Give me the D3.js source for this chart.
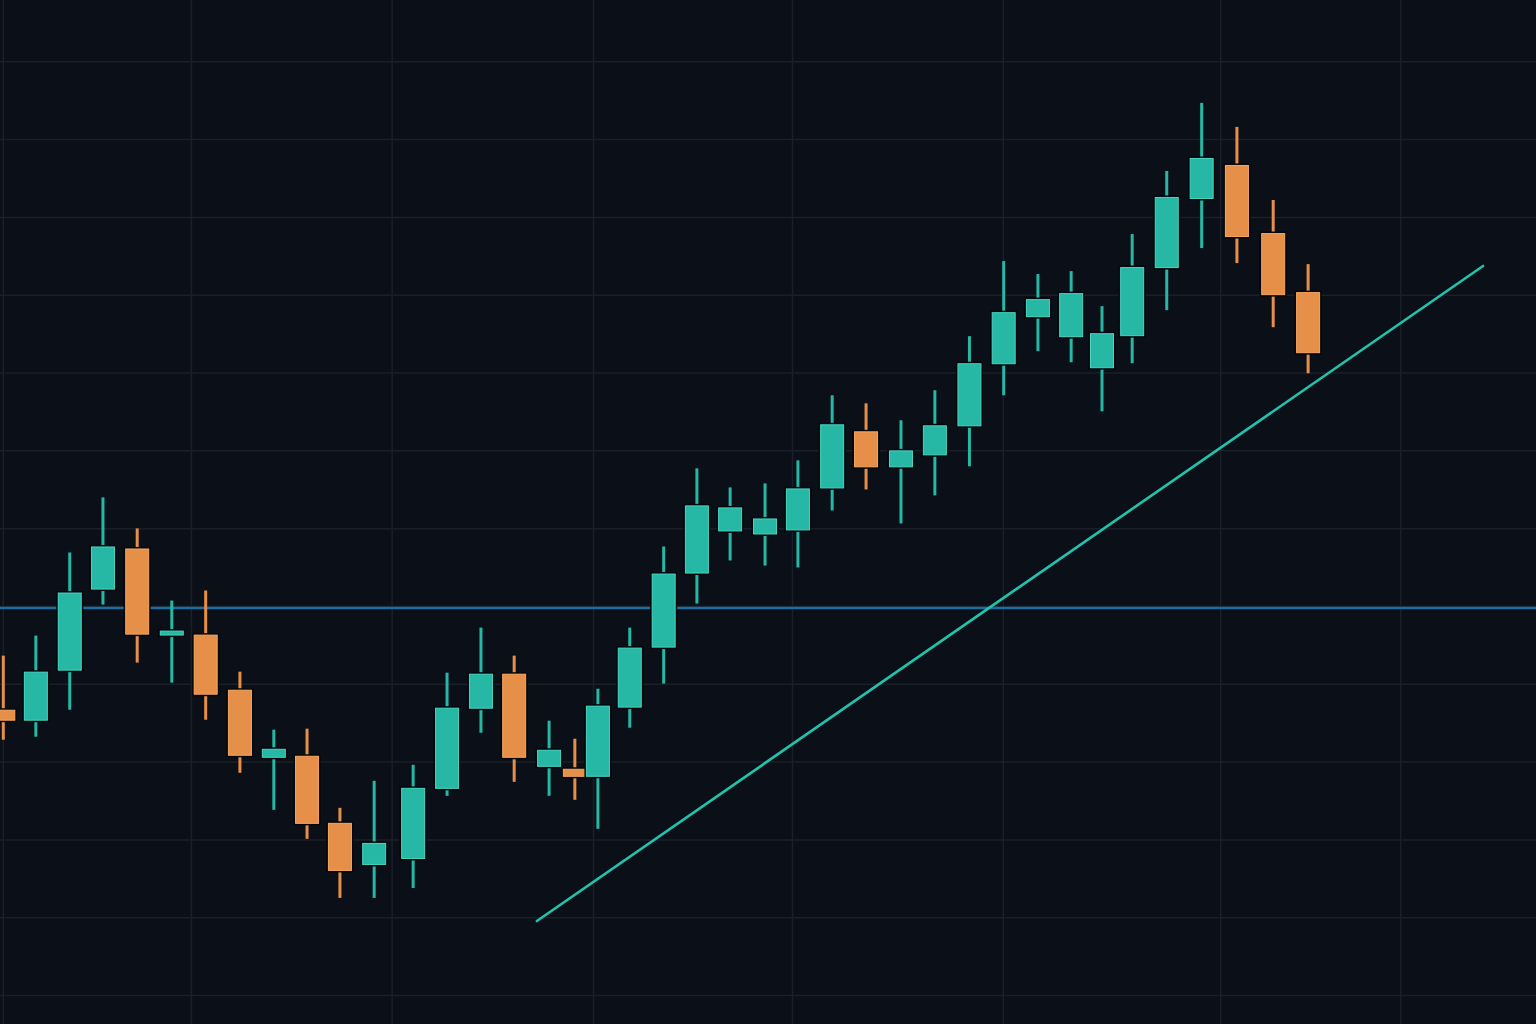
<!DOCTYPE html>
<html>
<head>
<meta charset="utf-8">
<script src="https://cdn.jsdelivr.net/npm/d3@7"></script>
<style>
  html, body { margin: 0; padding: 0; background: #0b0f17; overflow: hidden; }
  svg { display: block; }
</style>
</head>
<body>
<div id="chart"></div>
<script>
//candle times (bar slots)
var times = [0, 0.96, 1.96, 2.94, 3.95, 4.97, 5.97, 6.98, 7.98, 8.96,
    9.93, 10.94, 12.09, 13.09, 14.09, 15.07, 16.1, 16.86, 17.54, 18.48,
    19.48, 20.46, 21.44, 22.47, 23.44, 24.45, 25.45, 26.48, 27.48, 28.5,
    29.51, 30.52, 31.5, 32.41, 33.3, 34.32, 35.35, 36.39, 37.46, 38.49];

//open / high / low / close
var opens = [136.73, 135.32, 141.75, 152.17, 157.45, 146.26, 146.38, 139.30, 130.55, 130.81,
    122.19, 116.78, 117.55, 126.56, 136.86, 141.36, 129.39, 129.14, 128.11, 137.0,
    144.71, 154.23, 159.64, 159.25, 159.77, 165.17, 172.51, 167.88, 169.42, 173.15,
    181.13, 187.18, 184.61, 180.62, 184.74, 193.49, 202.37, 206.74, 197.99, 190.40];
var highs = [143.68, 146.26, 156.94, 164.02, 160.03, 150.76, 152.05, 141.62, 134.16, 134.29,
    124.12, 127.59, 129.65, 141.49, 147.28, 143.68, 135.32, 133.0, 139.43, 147.28,
    157.71, 167.75, 165.30, 165.82, 168.78, 177.14, 176.11, 173.93, 177.79, 184.74,
    194.39, 192.72, 193.10, 188.60, 197.86, 205.97, 214.72, 211.63, 202.24, 194.0];
var lows = [132.87, 133.26, 136.73, 150.24, 142.78, 140.21, 135.44, 128.62, 123.86, 120.13,
    112.54, 112.54, 113.82, 125.66, 133.77, 127.46, 125.66, 125.15, 121.42, 134.41,
    140.08, 150.37, 155.91, 155.26, 155.01, 162.34, 165.04, 160.67, 164.27, 168.01,
    177.14, 182.81, 181.39, 175.08, 181.26, 188.08, 196.06, 194.13, 185.89, 179.97];
var closes = [135.32, 141.62, 151.79, 157.71, 146.38, 146.90, 138.66, 130.81, 131.71, 122.06,
    116.01, 119.61, 126.69, 136.99, 141.36, 130.55, 131.58, 128.11, 137.25, 144.71,
    154.23, 162.99, 162.73, 161.31, 165.17, 173.41, 167.88, 170.06, 173.28, 181.26,
    187.82, 189.50, 190.27, 185.12, 193.62, 202.63, 207.64, 197.48, 190.01, 182.55];

//grid positions
var gridTimes = [0, 5.55, 11.47, 17.41, 23.28, 29.5, 35.91, 41.22];
var priceTicks = d3.range(100, 221, 10);

//support level and trend line
var levelPrice = 149.8;
var trendTimes = [15.74, 43.65];
var trendPrices = [109.57, 193.76];

var width = 1536;
var height = 1024;

var upColor = '#26b7a5';
var upEdge = '#48d6c3';
var downColor = '#e68f48';
var downEdge = '#f7a862';

var svg = d3
    .select('#chart')
    .append('svg')
    .attr('width', width)
    .attr('height', height);

svg.append('rect')
    .attr('width', width)
    .attr('height', height)
    .attr('fill', '#0b0f17');

//scales
var xScale = d3.scaleLinear().domain([0, 40]).range([3.3, 1359.3]);
var yScale = d3.scaleLinear().domain([100, 220]).range([995.5, 61.8]);

//grid
var grid = svg.append('g').attr('class', 'grid');

grid.selectAll('line.h')
    .data(priceTicks)
    .enter()
    .append('line')
    .attr('class', 'h')
    .attr('x1', 0)
    .attr('x2', width)
    .attr('y1', function(d) { return yScale(d); })
    .attr('y2', function(d) { return yScale(d); })
    .attr('stroke', '#1a1f29')
    .attr('stroke-width', 1.5);

grid.selectAll('line.v')
    .data(gridTimes)
    .enter()
    .append('line')
    .attr('class', 'v')
    .attr('x1', function(d) { return xScale(d); })
    .attr('x2', function(d) { return xScale(d); })
    .attr('y1', 0)
    .attr('y2', height)
    .attr('stroke', '#1a1f29')
    .attr('stroke-width', 1.5);

//horizontal level
svg.append('line')
    .attr('x1', 0)
    .attr('x2', width)
    .attr('y1', yScale(levelPrice))
    .attr('y2', yScale(levelPrice))
    .attr('stroke', '#1c6e9f')
    .attr('stroke-width', 2.5);

//trend line
svg.append('line')
    .attr('x1', xScale(trendTimes[0]))
    .attr('y1', yScale(trendPrices[0]))
    .attr('x2', xScale(trendTimes[1]))
    .attr('y2', yScale(trendPrices[1]))
    .attr('stroke', '#22c3ad')
    .attr('stroke-width', 2.6)
    .attr('stroke-linecap', 'round');

//build candle rows
var candles = times.map(function(t, i) {
    return { t: t, o: opens[i], h: highs[i], l: lows[i], c: closes[i] };
});

var bodyW = 24;

var g = svg.selectAll('g.candle')
    .data(candles)
    .enter()
    .append('g')
    .attr('class', 'candle');

//wicks
g.append('line')
    .attr('x1', function(d) { return xScale(d.t); })
    .attr('x2', function(d) { return xScale(d.t); })
    .attr('y1', function(d) { return yScale(d.h); })
    .attr('y2', function(d) { return yScale(d.l); })
    .attr('stroke', function(d) { return d.c >= d.o ? upColor : downColor; })
    .attr('stroke-width', 3);

//dark edge behind body
g.append('rect')
    .attr('x', function(d) { return xScale(d.t) - bodyW / 2 - 1.5; })
    .attr('y', function(d) { return yScale(Math.max(d.o, d.c)) - 1.5; })
    .attr('width', bodyW + 3)
    .attr('height', function(d) {
        return Math.max(3, Math.abs(yScale(d.o) - yScale(d.c))) + 3;
    })
    .attr('fill', '#05070b');

//body
g.append('rect')
    .attr('x', function(d) { return xScale(d.t) - bodyW / 2 + 0.5; })
    .attr('y', function(d) { return yScale(Math.max(d.o, d.c)) + 0.5; })
    .attr('width', bodyW - 1)
    .attr('height', function(d) {
        return Math.max(3, Math.abs(yScale(d.o) - yScale(d.c))) - 1;
    })
    .attr('fill', function(d) { return d.c >= d.o ? upColor : downColor; })
    .attr('stroke', function(d) { return d.c >= d.o ? upEdge : downEdge; })
    .attr('stroke-width', 1);
</script>
</body>
</html>
